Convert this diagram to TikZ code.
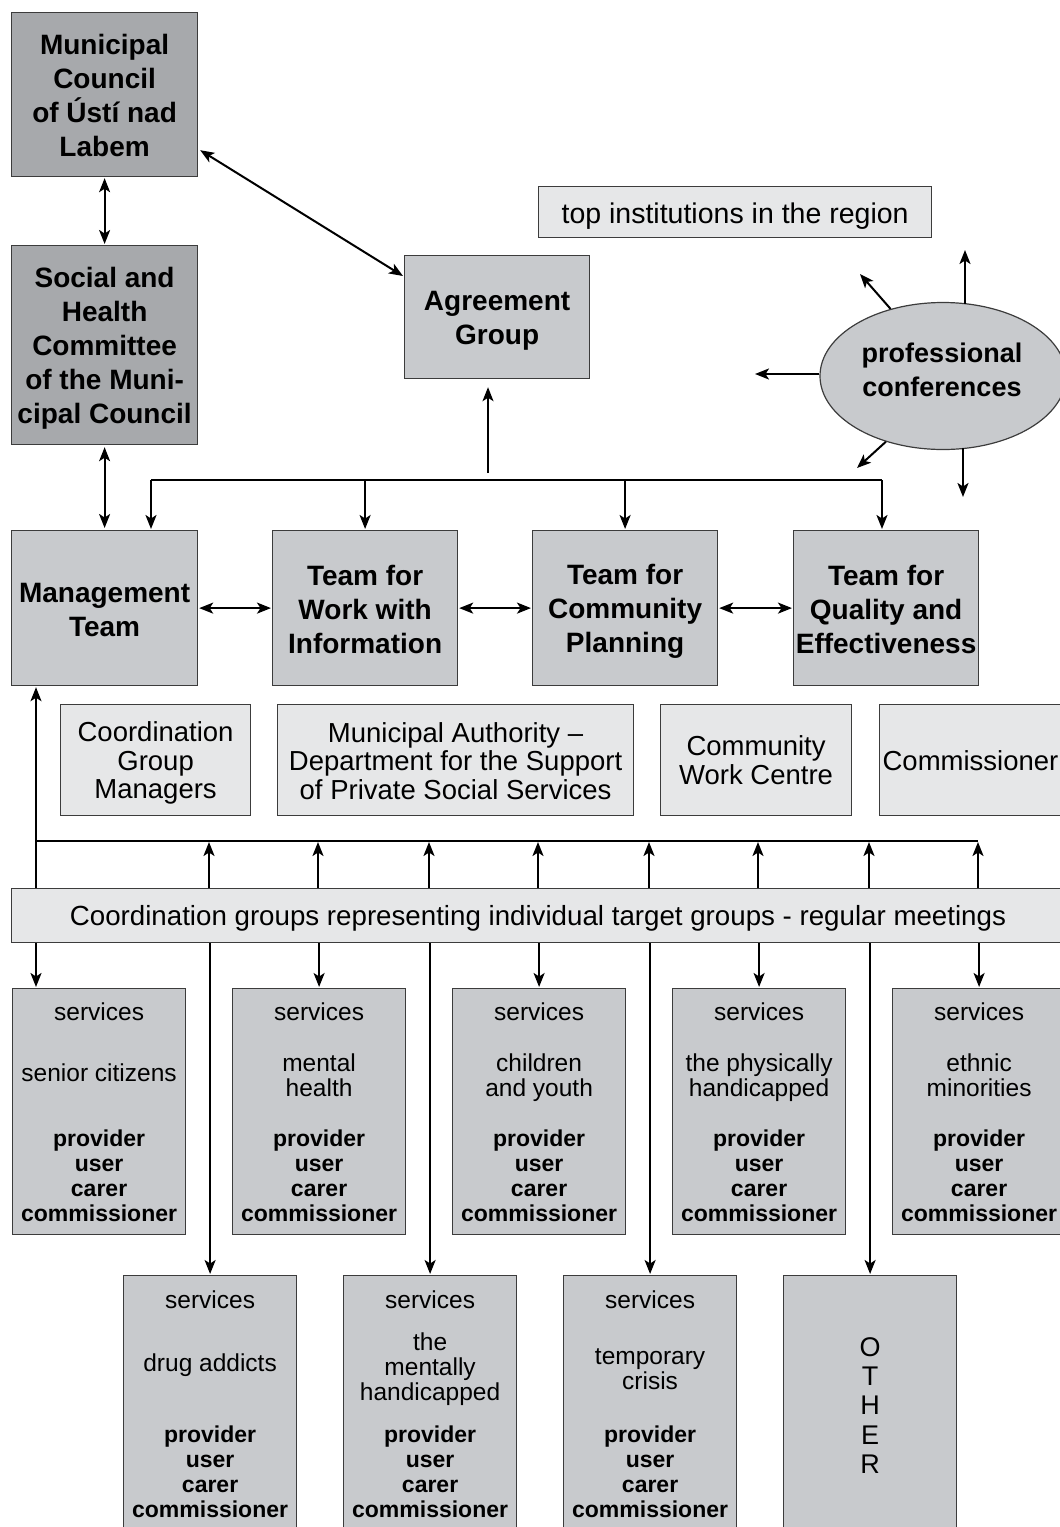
\documentclass[tikz,border=0pt]{standalone}
\usepackage{fontspec}
\setmainfont{Liberation Sans}
\usetikzlibrary{arrows.meta,shapes.geometric}

\definecolor{darkfill}{HTML}{A7A9AC}
\definecolor{midfill}{HTML}{C8CACD}
\definecolor{lightfill}{HTML}{E6E7E8}
\definecolor{edgegray}{HTML}{3C3C3C}

\begin{document}
\begin{tikzpicture}[x=1pt,y=-1pt,
  box/.style={draw=edgegray, line width=1.2pt, inner sep=0pt, anchor=north west},
  darkbox/.style={box, fill=darkfill},
  midbox/.style={box, fill=midfill},
  lightbox/.style={box, fill=lightfill},
  txt/.style={inner sep=0pt, align=center},
  bigbold/.style={txt, font=\fontsize{28}{34}\selectfont\bfseries},
  plain/.style={txt, font=\fontsize{27.5}{28.7}\selectfont},
  svc/.style={txt, font=\fontsize{24.5}{25}\selectfont},
  role/.style={txt, font=\fontsize{23}{25}\selectfont\bfseries},
  tip/.tip={Stealth[length=14pt,width=11pt,inset=3.5pt]},
  conn/.style={line width=2pt, -tip},
  both/.style={line width=2pt, tip-tip},
  bus/.style={line width=2.5pt},
]
\useasboundingbox (0,0) rectangle (1060,1527);
\clip (0,0) rectangle (1060,1527);

% --- council level ---
\node[darkbox, minimum width=186pt, minimum height=164pt] (mc) at (11,12) {};
\node[bigbold] (mc-t) at ([yshift=-1pt]mc.center) {Municipal\\Council\\of Ústí nad\\Labem};
\node[darkbox, minimum width=186pt, minimum height=199pt] (sh) at (11,245) {};
\node[bigbold] (sh-t) at ([yshift=-3.5pt]sh.center) {Social and\\Health\\Committee\\of the Muni-\\cipal Council};
\node[midbox, minimum width=185pt, minimum height=123pt] (ag) at (404,255) {};
\node[bigbold] (ag-t) at ([yshift=-4pt]ag.center) {Agreement\\Group};
\node[lightbox, minimum width=393pt, minimum height=51pt] (tir) at (538,186) {};
\node[txt, font=\fontsize{28.5}{30}\selectfont] (tir-t) at ([yshift=-4pt]tir.center)
  {top institutions in the region};
\node[ellipse, draw=edgegray, fill=midfill, line width=1.2pt, inner sep=0pt,
      minimum width=246pt, minimum height=147pt] (pc) at (943,376) {};
\node[txt, font=\fontsize{27}{34}\selectfont\bfseries] (pc-t) at (942,370)
  {professional\\conferences};

% --- teams ---
\node[midbox, minimum width=186pt, minimum height=155pt] (mt) at (11,530) {};
\node[bigbold] (mt-t) at ([yshift=-2pt]mt.center) {Management\\Team};
\node[midbox, minimum width=185pt, minimum height=155pt] (twi) at (272,530) {};
\node[bigbold] (twi-t) at ([yshift=-1pt]twi.center) {Team for\\Work with\\Information};
\node[midbox, minimum width=185pt, minimum height=155pt] (tcp) at (532,530) {};
\node[bigbold] (tcp-t) at ([yshift=-3pt]tcp.center) {Team for\\Community\\Planning};
\node[midbox, minimum width=185pt, minimum height=155pt] (tqe) at (793,530) {};
\node[bigbold] (tqe-t) at ([yshift=-1pt]tqe.center) {Team for\\Quality and\\Effectiveness};

% --- supporting bodies ---
\node[lightbox, minimum width=190pt, minimum height=111pt] (cgm) at (60,704) {};
\node[plain] (cgm-t) at ([yshift=-3pt]cgm.center) {Coordination\\Group\\Managers};
\node[lightbox, minimum width=356pt, minimum height=111pt] (mad) at (277,704) {};
\node[plain] (mad-t) at ([yshift=-1pt]mad.center)
  {Municipal Authority –\\Department for the Support\\of Private Social Services};
\node[lightbox, minimum width=191pt, minimum height=111pt] (cwc) at (660,704) {};
\node[plain] (cwc-t) at (cwc.center) {Community\\Work Centre};
\node[lightbox, minimum width=195pt, minimum height=111pt] (com) at (879,704) {};
\node[plain] (com-t) at (970.5,761) {Commissioner};

% --- coordination groups ---
\node[lightbox, minimum width=1060pt, minimum height=54pt] (cg) at (11,888) {};
\node[txt, font=\fontsize{27.7}{30}\selectfont] (cg-t) at (538,918)
  {Coordination groups representing individual target groups - regular meetings};

% --- service boxes, upper row ---
\foreach \nm/\x/\tg/\dy in {s1/12/{senior citizens}/85, s2/232/{mental\\health}/87,
    s3/452/{children\\and youth}/89.5, s4/672/{the physically\\handicapped}/89.5,
    s5/892/{ethnic\\minorities}/87} {
  \node[midbox, minimum width=173pt, minimum height=246pt] (\nm) at (\x,988) {};
  \node[svc] (\nm-a) at ([yshift=-24pt]\nm.north) {services};
  \node[svc] (\nm-b) at ([yshift=-\dy pt]\nm.north) {\tg};
  \node[role] (\nm-c) at ([yshift=-187.5pt]\nm.north) {provider\\user\\carer\\commissioner};
}

% --- service boxes, lower row ---
\foreach \nm/\x/\tg/\dy in {b1/123/{drug addicts}/90, b2/343/{the\\mentally\\handicapped}/94,
    b3/563/{temporary\\crisis}/94.5} {
  \node[midbox, minimum width=173pt, minimum height=262pt] (\nm) at (\x,1275) {};
  \node[svc] (\nm-a) at ([yshift=-25pt]\nm.north) {services};
  \node[svc] (\nm-b) at ([yshift=-\dy pt]\nm.north) {\tg};
  \node[role] (\nm-c) at ([yshift=-197pt]\nm.north) {provider\\user\\carer\\commissioner};
}
\node[midbox, minimum width=173pt, minimum height=262pt] (b4) at (783,1275) {};
\node[txt, font=\fontsize{27}{29.3}\selectfont] (b4-a)
  at ([yshift=-130.5pt]b4.north) {O\\T\\H\\E\\R};

% --- connectors: council level ---
\draw[both, shorten <=1pt, shorten >=1pt] (mc.south) -- (sh.north);
\draw[both] ([shift={(2pt,27pt)}]mc.south east) -- ([shift={(-1pt,-21pt)}]ag.north west);
\draw[both, shorten <=2pt, shorten >=2pt] (sh.south) -- (mt.north);

% distribution bus above the teams
\coordinate (busL) at (151,480);
\coordinate (busR) at (882,480);
\draw[bus] (busL) -- (busR);
\draw[conn, shorten >=1pt] (busL) -- (busL |- mt.north);
\draw[conn, shorten >=1pt] (busL -| twi.north) -- (twi.north);
\draw[conn, shorten >=1pt] (busL -| tcp.north) -- (tcp.north);
\draw[conn, shorten >=1pt] (busR) -- (busR |- tqe.north);
\coordinate (agfoot) at (488,473);
\draw[conn, shorten >=8pt] (agfoot) -- (agfoot |- ag.south);

% links between the teams
\draw[both, shorten <=1pt, shorten >=1pt] (mt) -- (twi);
\draw[both, shorten <=1pt, shorten >=1pt] (twi) -- (tcp);
\draw[both, shorten <=1pt, shorten >=1pt] (tcp) -- (tqe);

% arrows out of the conferences
\coordinate (pcU) at (965,250);
\coordinate (pcUL) at (860,274);
\coordinate (pcW) at (755,374);
\coordinate (pcDL) at (857,468);
\coordinate (pcD) at (963,497);
\draw[conn, shorten <=-2pt] (pcU |- pc.north) -- (pcU);
\draw[conn] (pc.128) -- (pcUL);
\draw[conn] (pcW -| pc.west) -- (pcW);
\draw[conn] (pc.229) -- (pcDL);
\draw[conn, shorten <=-2pt] (pcD |- pc.south) -- (pcD);

% --- feedback from coordination groups ---
\coordinate (fbL) at (36,841);
\coordinate (fbR) at (978,841);
\draw[bus] (fbL) -- (fbR);
\draw[conn, shorten >=1pt] (cg.north -| fbL) -- (fbL |- mt.south);
\foreach \x [count=\i] in {209,318,429,538,649,758,869,978} {
  \coordinate (up\i) at (\x,841);
  \draw[conn, shorten >=1pt] (up\i |- cg.north) -- (up\i);
}

% --- coordination groups down to the services ---
\draw[conn, shorten >=1pt] (cg.south -| fbL) -- (fbL |- s1.north);
\foreach \nm in {s2,s3,s4,s5,b1,b2,b3,b4} {
  \draw[conn, shorten >=1pt] (cg.south -| \nm.north) -- (\nm.north);
}
\end{tikzpicture}
\end{document}
